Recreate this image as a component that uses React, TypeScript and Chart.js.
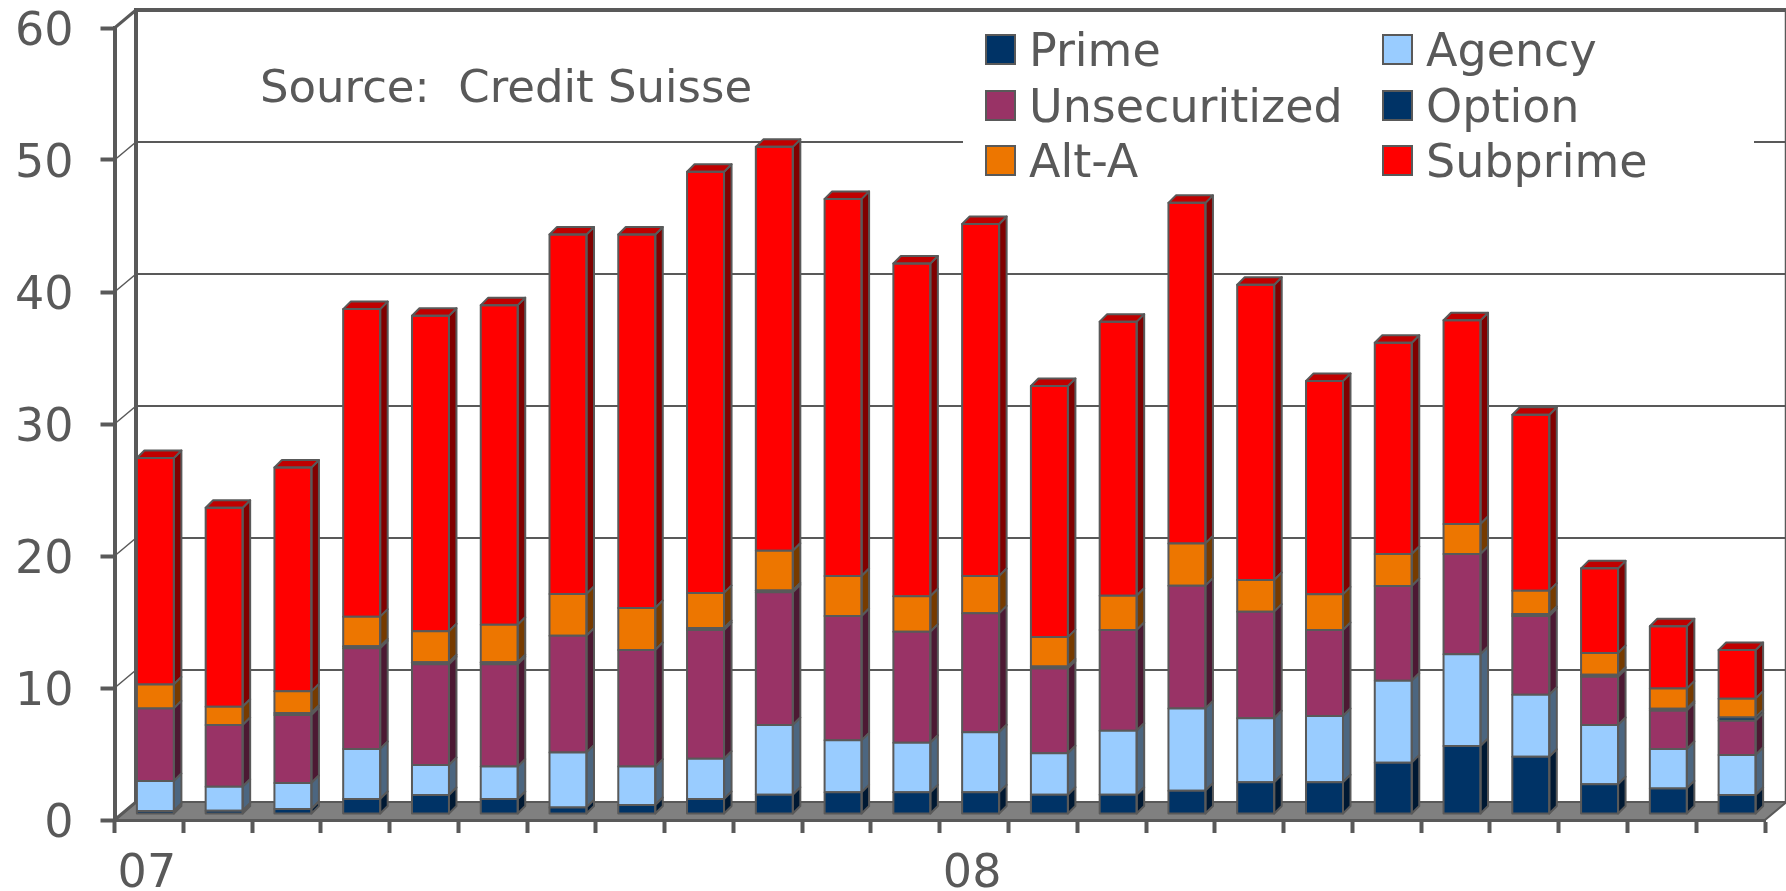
import React, { useEffect, useRef } from "react";
import { Chart, registerables } from "chart.js";

Chart.register(...registerables);

const categories = ["07","","","","","","","","","","","","08","","","","","","","","","","",""];
const prime = [0.23,0.25,0.38,1.14,1.44,1.14,0.5,0.68,1.14,1.46,1.64,1.64,1.64,1.46,1.46,1.77,2.4,2.4,3.89,5.15,4.34,2.25,1.94,1.44];
const agency = [2.27,1.82,1.97,3.78,2.27,2.45,4.15,2.91,3.05,5.28,3.94,3.76,4.55,3.14,4.85,6.23,4.85,5.02,6.21,6.95,4.7,4.49,2.98,3.03];
const unsecuritized = [5.5,4.67,5.15,7.63,7.63,7.75,8.85,8.83,9.75,10.05,9.42,8.41,9.01,6.43,7.63,9.3,8.08,6.52,7.17,7.6,5.96,3.66,2.91,2.6];
const option = [0,0,0.15,0.15,0.15,0.15,0,0,0.15,0.15,0,0,0,0.15,0,0,0,0,0,0,0.15,0.15,0.15,0.25];
const altA = [1.82,1.39,1.64,2.25,2.35,2.85,3.17,3.18,2.66,3.0,3.03,2.69,2.83,2.22,2.6,3.2,2.4,2.7,2.43,2.27,1.77,1.65,1.52,1.42];
const subprime = [17.15,15.07,16.96,23.3,23.91,24.21,27.23,28.3,31.9,30.6,28.57,25.2,26.67,19.02,20.76,25.8,22.37,16.16,16.0,15.43,13.33,6.41,4.72,3.68];
const yTicks = [0,10,20,30,40,50,60];

const INK = "#595959";
const FONT = "DejaVu Sans";

const seriesDefs = [
  { label: "Prime", data: prime, color: "#003366", side: "#001933" },
  { label: "Agency", data: agency, color: "#99CCFF", side: "#4C6680" },
  { label: "Unsecuritized", data: unsecuritized, color: "#993366", side: "#4C1933" },
  { label: "Option", data: option, color: "#003366", side: "#001933" },
  { label: "Alt-A", data: altA, color: "#ED7600", side: "#763B00" },
  { label: "Subprime", data: subprime, color: "#FF0000", side: "#800000", top: "#C00000" },
];

const WALL_DX = 21.5;
const WALL_DY = 18;
const BAR_DX = 6.5;
const BAR_DY = 6;
const SIDE = 7.5;

function poly(ctx: CanvasRenderingContext2D, pts: number[][], fill: string, stroke: string, lw: number) {
  ctx.beginPath();
  pts.forEach((p, i) => (i ? ctx.lineTo(p[0], p[1]) : ctx.moveTo(p[0], p[1])));
  ctx.closePath();
  ctx.fillStyle = fill;
  ctx.fill();
  ctx.strokeStyle = stroke;
  ctx.lineWidth = lw;
  ctx.lineJoin = "round";
  ctx.stroke();
}

function line(ctx: CanvasRenderingContext2D, x0: number, y0: number, x1: number, y1: number, lw: number) {
  ctx.beginPath();
  ctx.moveTo(x0, y0);
  ctx.lineTo(x1, y1);
  ctx.strokeStyle = INK;
  ctx.lineWidth = lw;
  ctx.stroke();
}

const walls = {
  id: "walls",
  beforeDatasetsDraw(chart: any) {
    const { ctx, chartArea: a, scales } = chart;
    const y = scales.y;
    const y0 = y.getPixelForValue(0);
    const yMax = y.getPixelForValue(60);
    ctx.save();
    poly(ctx, [[a.left, y0], [a.right, y0], [a.right + WALL_DX, y0 - WALL_DY], [a.left + WALL_DX, y0 - WALL_DY]], "#808080", INK, 2);
    yTicks.forEach((v) => {
      const py = y.getPixelForValue(v);
      if (v > 0 && v < 60) line(ctx, a.left + WALL_DX, py - WALL_DY, a.right + WALL_DX, py - WALL_DY, 2);
      if (v > 0 && v < 60) line(ctx, a.left, py, a.left + WALL_DX, py - WALL_DY, 1.5);
    });
    line(ctx, a.left + WALL_DX, y0 - WALL_DY, a.left + WALL_DX, yMax - WALL_DY - 2, 4);
    line(ctx, a.left, yMax, a.left + WALL_DX, yMax - WALL_DY, 3);
    line(ctx, a.left, y0, a.left + WALL_DX, y0 - WALL_DY, 3);
    line(ctx, a.left + WALL_DX, yMax - WALL_DY, a.right + WALL_DX, yMax - WALL_DY, 4);
    line(ctx, chart.width - 0.5, yMax - WALL_DY, chart.width - 0.5, y0 - WALL_DY, 1.5);
    ctx.restore();
  },
  beforeDatasetDraw(chart: any) {
    chart.ctx.save();
    chart.ctx.translate(BAR_DX, -BAR_DY);
  },
  afterDatasetDraw(chart: any, args: any) {
    const { ctx } = chart;
    const def = seriesDefs[args.index];
    args.meta.data.forEach((el: any) => {
      const p = el.getProps(["x", "y", "base", "width"], true);
      const l = p.x - p.width / 2;
      const r = p.x + p.width / 2;
      if (p.base - p.y < 0.01) return;
      poly(ctx, [[r, p.y], [r + SIDE, p.y - SIDE], [r + SIDE, p.base - SIDE], [r, p.base]], def.side, INK, 2);
      if (def.top) poly(ctx, [[l, p.y], [l + SIDE, p.y - SIDE], [r + SIDE, p.y - SIDE], [r, p.y]], def.top, INK, 2);
      ctx.strokeStyle = INK;
      ctx.lineWidth = 2;
      ctx.strokeRect(l, p.y, p.width, p.base - p.y);
    });
    ctx.restore();
  },
  afterDraw(chart: any) {
    const { ctx } = chart;
    ctx.save();
    ctx.fillStyle = "#FFFFFF";
    ctx.fillRect(963, 14, 791, 172);
    const slots = [
      { i: 0, x: 986, y: 35 }, { i: 1, x: 1383, y: 35 },
      { i: 2, x: 986, y: 91 }, { i: 3, x: 1383, y: 91 },
      { i: 4, x: 986, y: 146 }, { i: 5, x: 1383, y: 146 },
    ];
    ctx.textBaseline = "alphabetic";
    slots.forEach((s) => {
      const def = seriesDefs[s.i];
      ctx.fillStyle = def.color;
      ctx.fillRect(s.x, s.y, 29, 29);
      ctx.strokeStyle = INK;
      ctx.lineWidth = 2;
      ctx.strokeRect(s.x, s.y, 29, 29);
      ctx.fillStyle = INK;
      ctx.font = `46px "${FONT}"`;
      ctx.fillText(chart.data.datasets[s.i].label, s.x + 43, s.y + 31);
    });
    ctx.fillStyle = INK;
    ctx.font = `45px "${FONT}"`;
    ctx.fillText("Source:  Credit Suisse", 260, 102);
    ctx.restore();
  },
};

export default function App() {
  const ref = useRef<HTMLCanvasElement | null>(null);
  useEffect(() => {
    document.body.style.margin = "0";
    const chart = new Chart(ref.current!, {
      type: "bar",
      data: {
        labels: categories,
        datasets: seriesDefs.map((d) => ({
          label: d.label,
          data: d.data,
          backgroundColor: d.color,
          borderWidth: 0,
          barThickness: 37,
          clip: false as any,
        })),
      },
      options: {
        responsive: false,
        animation: false,
        layout: { autoPadding: false, padding: { top: 28, right: 21, left: 0, bottom: 0 } },
        plugins: { legend: { display: false }, tooltip: { enabled: false }, title: { display: false } },
        scales: {
          x: {
            stacked: true,
            offset: true,
            afterFit: (s: any) => { s.height = 71; s.paddingLeft = 0; s.paddingRight = 0; },
            grid: { offset: true, drawOnChartArea: false, drawTicks: true, tickLength: 13, tickWidth: 4, tickColor: INK },
            border: { display: true, color: INK, width: 4 },
            ticks: {
              autoSkip: false, maxRotation: 0, minRotation: 0, padding: 14, labelOffset: -2,
              color: INK, font: { family: FONT, size: 46 },
            },
          },
          y: {
            stacked: true,
            min: 0,
            max: 60,
            afterFit: (s: any) => { s.width = 114.5; s.paddingTop = 0; s.paddingBottom = 0; },
            grid: { drawOnChartArea: false, drawTicks: true, tickLength: 14, tickWidth: 4, tickColor: INK },
            border: { display: true, color: INK, width: 4 },
            ticks: {
              stepSize: 10, padding: 27, labelOffset: 5,
              color: INK, font: { family: FONT, size: 46 },
            },
          },
        },
      },
      plugins: [walls as any],
    });
    return () => chart.destroy();
  }, []);
  return (
    <div style={{ position: "absolute", left: 0, top: 0, width: 1786, height: 891, background: "#fff" }}>
      <canvas ref={ref} width={1786} height={891} style={{ display: "block" }} />
    </div>
  );
}
